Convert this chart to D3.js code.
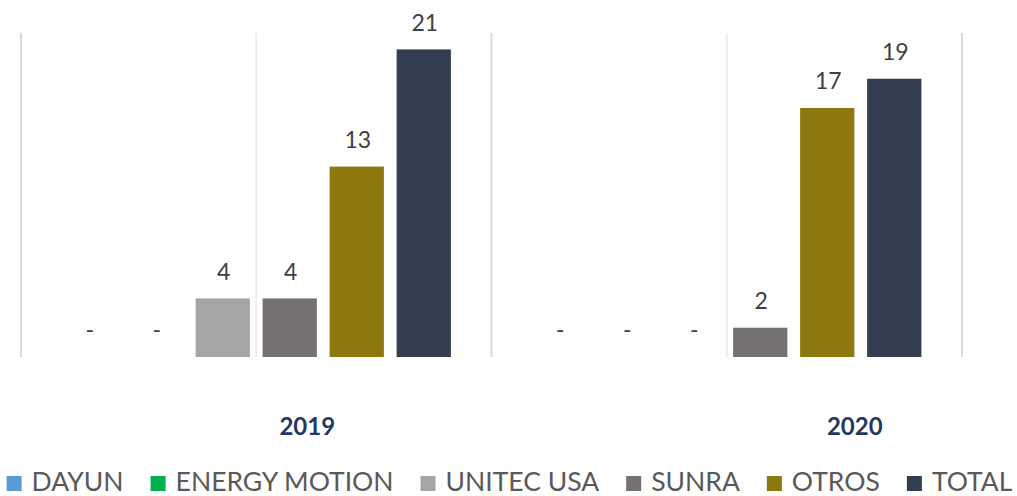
<!DOCTYPE html>
<html>
<head>
<meta charset="utf-8">
<script src="https://cdn.jsdelivr.net/npm/d3@7"></script>
<style>
  body { margin: 0; background: #fff; }
  text { font-family: Lato, "Liberation Sans", sans-serif; }
</style>
</head>
<body>
<div class="chart"></div>
<script>
// data
var years = ["2019", "2020"];
var series = ["DAYUN", "ENERGY MOTION", "UNITEC USA", "SUNRA", "OTROS", "TOTAL"];
var values2019 = [0, 0, 4, 4, 13, 21];
var values2020 = [0, 0, 0, 2, 17, 19];
var colors = ["#5B9BD5", "#00B050", "#A5A5A5", "#767171", "#8E790E", "#333F50"];

var svgWidth = 1017;
var svgHeight = 496;

var plot = { left: 21, right: 962, top: 33, bottom: 357 };

var svg = d3.select(".chart")
    .append("svg")
    .attr("width", svgWidth)
    .attr("height", svgHeight);

var table = years.map(function(y, i) {
    var vals = i === 0 ? values2019 : values2020;
    return { year: y, bars: series.map(function(s, j) { return { name: s, value: vals[j], color: colors[j] }; }) };
});

var x0 = d3.scaleBand().domain(years).range([plot.left, plot.right]).padding(0);
var x1 = d3.scaleBand().domain(series).range([0, x0.bandwidth()])
    .paddingInner(0.19).paddingOuter(0.606).align(0.5);
var y = d3.scaleLinear().domain([0, 22.12]).range([plot.bottom, plot.top]);

// vertical gridlines: category boundaries + centers
var majorX = [x0.range()[0]].concat(years.map(function(d) { return x0(d) + x0.bandwidth(); }));
var minorX = years.map(function(d) { return x0(d) + x0.bandwidth() / 2; });

svg.selectAll(".minor").data(minorX).enter().append("line")
    .attr("x1", function(d) { return d; }).attr("x2", function(d) { return d; })
    .attr("y1", plot.top).attr("y2", plot.bottom)
    .attr("stroke", "#EDEDED").attr("stroke-width", 2);

svg.selectAll(".major").data(majorX).enter().append("line")
    .attr("x1", function(d) { return d; }).attr("x2", function(d) { return d; })
    .attr("y1", plot.top).attr("y2", plot.bottom)
    .attr("stroke", "#D9D9D9").attr("stroke-width", 2);

var groups = svg.selectAll(".group").data(table).enter().append("g")
    .attr("transform", function(d) { return "translate(" + x0(d.year) + ",0)"; });

groups.selectAll("rect").data(function(d) { return d.bars; }).enter().append("rect")
    .attr("x", function(d) { return x1(d.name); })
    .attr("width", x1.bandwidth())
    .attr("y", function(d) { return y(d.value); })
    .attr("height", function(d) { return y(0) - y(d.value); })
    .attr("fill", function(d) { return d.color; });

groups.selectAll(".lbl").data(function(d) { return d.bars; }).enter().append("text")
    .attr("class", "lbl")
    .attr("x", function(d) { return x1(d.name) + x1.bandwidth() / 2 + 1; })
    .attr("y", function(d) { return y(d.value) - 18.6; })
    .attr("text-anchor", "middle")
    .attr("font-size", "23px")
    .attr("fill", "#404040")
    .text(function(d) { return d.value === 0 ? "-" : d.value; });

// year labels (placed off-centre like the original)
var yearOffset = [51, 128];
svg.selectAll(".year").data(years).enter().append("text")
    .attr("x", function(d, i) { return x0(d) + x0.bandwidth() / 2 + yearOffset[i]; })
    .attr("y", 435)
    .attr("text-anchor", "middle")
    .attr("font-size", "24px")
    .attr("font-weight", "bold")
    .attr("fill", "#1F3864")
    .text(function(d) { return d; });

// legend
var legend = svg.append("g");
var items = legend.selectAll("g").data(series).enter().append("g");
items.append("rect")
    .attr("width", 15).attr("height", 15)
    .attr("y", 476)
    .attr("fill", function(d, i) { return colors[i]; });
items.append("text")
    .attr("x", 25).attr("y", 491)
    .attr("font-size", "26.5px")
    .attr("fill", "#595959")
    .text(function(d) { return d; });

var pos = 0;
items.each(function() {
    var w = this.querySelector("text").getComputedTextLength();
    d3.select(this).attr("transform", "translate(" + pos + ",0)");
    pos += 25 + w + 27;
});
var legendW = pos - 27;
legend.attr("transform", "translate(" + ((svgWidth - legendW) / 2 + 1) + ",0)");
</script>
</body>
</html>
